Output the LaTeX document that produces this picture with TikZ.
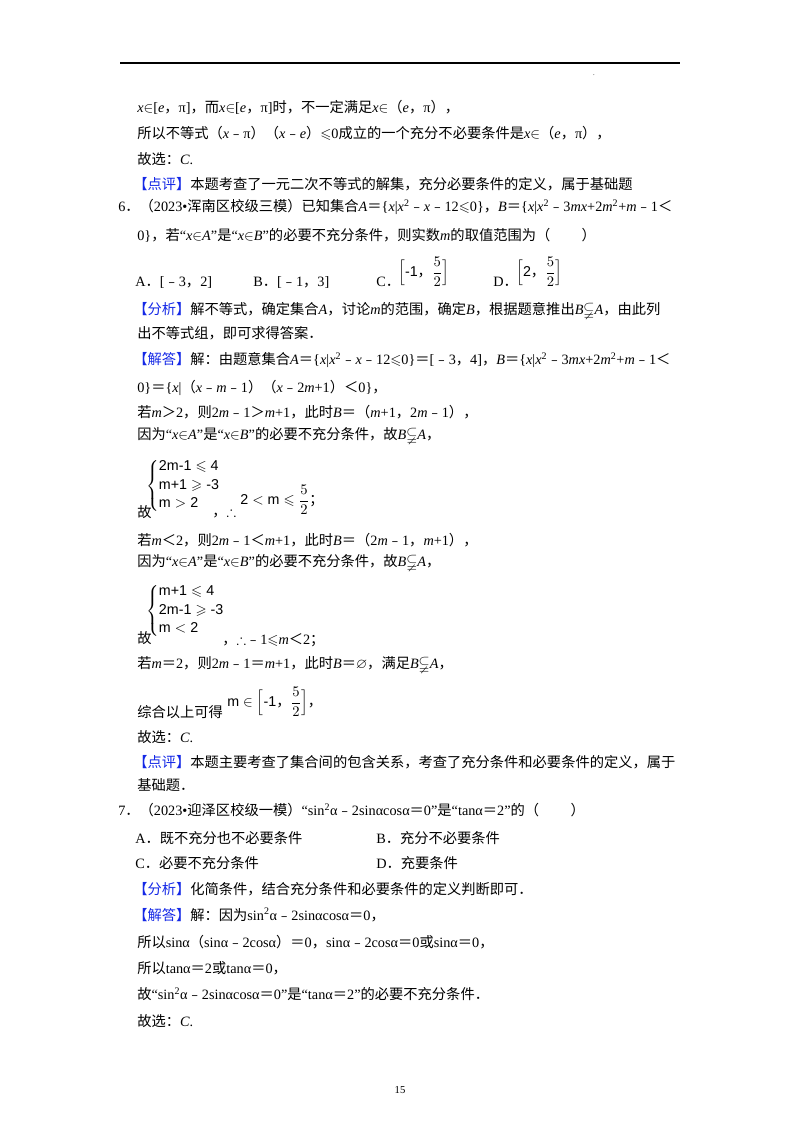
\documentclass[tikz,border=0pt]{standalone}
\usepackage{amsmath,amssymb}
\usepackage{fontspec}
\setmainfont{Liberation Serif}
\newfontfamily\cjk{Noto Sans CJK SC}
\newfontfamily\eqf{Liberation Sans}
\XeTeXinterchartokenstate=1
\newXeTeXintercharclass\cjkcls
\newcount\mycnt
\def\setcls#1#2{\mycnt=#1 \loop \XeTeXcharclass\mycnt=\cjkcls \advance\mycnt by 1 \ifnum\mycnt<#2 \repeat}
\setcls{"3000}{"3040}
\setcls{"4E00}{"A000}
\setcls{"FE30}{"FE70}
\setcls{"FF00}{"FFF0}
\XeTeXinterchartoks 0 \cjkcls={\begingroup\cjk}
\XeTeXinterchartoks 4095 \cjkcls={\begingroup\cjk}
\XeTeXinterchartoks \cjkcls 0={\endgroup}
\XeTeXinterchartoks \cjkcls 4095={\endgroup}
\definecolor{tagblue}{RGB}{20,40,230}
\newcommand{\ti}[1]{\textit{#1}}
\newcommand{\tg}[1]{{\color{tagblue}【#1】}}
\newcommand{\sq}{\textsuperscript{2}}
\newcommand{\elt}{$\in$}
\begin{document}
\begin{tikzpicture}[x=0.75pt,y=-0.75pt,font=\fontsize{10.7}{12}\selectfont,
  tl/.style={anchor=west,inner sep=0pt}]
\useasboundingbox (0,0) rectangle (800,1132);
\draw[line width=0.8pt] (120,63) -- (680,63);
\node[inner sep=0pt,font=\tiny] (dot) at (594,75) {.};
\node[tl] (l1) at (137,107) {\ti{x}\elt[\ti{e}，π]，而\ti{x}\elt[\ti{e}，π]时，不一定满足\ti{x}\elt（\ti{e}，π），};
\node[tl] (l2) at (137,133) {所以不等式（\ti{x}﹣π）（\ti{x}﹣\ti{e}）$\leqslant$0成立的一个充分不必要条件是\ti{x}\elt（\ti{e}，π），};
\node[tl] (l3) at (137,159) {故选：\ti{C}.};
\node[tl] (l4) at (133,184) {\tg{点评}本题考查了一元二次不等式的解集，充分必要条件的定义，属于基础题};
\node[tl] (q6) at (118,207) {6．（2023•浑南区校级三模）已知集合\ti{A}＝\{\ti{x}|\ti{x}\sq﹣\ti{x}﹣12$\leqslant$0\}，\ti{B}＝\{\ti{x}|\ti{x}\sq﹣3\ti{mx}+2\ti{m}\sq+\ti{m}﹣1＜};
\node[tl] (q6b) at (137,235) {0\}，若“\ti{x}\elt\ti{A}”是“\ti{x}\elt\ti{B}”的必要不充分条件，则实数\ti{m}的取值范围为（\hspace{2.2em}）};
\node[tl] (oA) at (135,282) {A．[﹣3，2]};
\node[tl] (oB) at (253,282) {B．[﹣1，3]};
\node[tl] (oC) at (376,282) {C．};
\node[tl] (oCf) at (398,272) {\eqf$\Bigl[\text{-1，}\dfrac{5}{2}\Bigr]$};
\node[tl] (oD) at (493,282) {D．};
\node[tl] (oDf) at (516,272) {\eqf$\Bigl[\text{2，}\dfrac{5}{2}\Bigr]$};
\node[tl] (a1) at (133,310) {\tg{分析}解不等式，确定集合\ti{A}，讨论\ti{m}的范围，确定\ti{B}，根据题意推出\ti{B}$\subsetneqq$\ti{A}，由此列};
\node[tl] (a2) at (137,333) {出不等式组，即可求得答案．};
\node[tl] (s1) at (133,360) {\tg{解答}解：由题意集合\ti{A}＝\{\ti{x}|\ti{x}\sq﹣\ti{x}﹣12$\leqslant$0\}＝[﹣3，4]，\ti{B}＝\{\ti{x}|\ti{x}\sq﹣3\ti{mx}+2\ti{m}\sq+\ti{m}﹣1＜};
\node[tl] (s2) at (137,388) {0\}＝\{\ti{x}|（\ti{x}﹣\ti{m}﹣1）（\ti{x}﹣2\ti{m}+1）＜0\}，};
\node[tl] (s3) at (137,412) {若\ti{m}＞2，则2\ti{m}﹣1＞\ti{m}+1，此时\ti{B}＝（\ti{m}+1，2\ti{m}﹣1），};
\node[tl] (s4) at (137,436) {因为“\ti{x}\elt\ti{A}”是“\ti{x}\elt\ti{B}”的必要不充分条件，故\ti{B}$\subsetneqq$\ti{A}，};
\node[tl] (g1) at (137,512) {故};
\node[tl] (sys1) at (146,486) {\eqf$\left\{\begin{array}{@{}l@{}}\text{2m-1}\leqslant\text{4}\\[2pt] \text{m+1}\geqslant\text{-3}\\[2pt] \text{m}>\text{2}\end{array}\right.$};
\node[tl] (c1) at (212,512) {，$\therefore$};
\node[tl] (c1f) at (240,500) {\eqf$\text{2}<\text{m}\leqslant\dfrac{5}{2}$；};
\node[tl] (s5) at (137,540) {若\ti{m}＜2，则2\ti{m}﹣1＜\ti{m}+1，此时\ti{B}＝（2\ti{m}﹣1，\ti{m}+1），};
\node[tl] (s6) at (137,563) {因为“\ti{x}\elt\ti{A}”是“\ti{x}\elt\ti{B}”的必要不充分条件，故\ti{B}$\subsetneqq$\ti{A}，};
\node[tl] (g2) at (137,638) {故};
\node[tl] (sys2) at (146,611) {\eqf$\left\{\begin{array}{@{}l@{}}\text{m+1}\leqslant\text{4}\\[2pt] \text{2m-1}\geqslant\text{-3}\\[2pt] \text{m}<\text{2}\end{array}\right.$};
\node[tl] (c2) at (222,640) {，$\therefore$﹣1$\leqslant$\ti{m}＜2；};
\node[tl] (s7) at (137,665) {若\ti{m}＝2，则2\ti{m}﹣1＝\ti{m}+1，此时\ti{B}＝$\varnothing$，满足\ti{B}$\subsetneqq$\ti{A}，};
\node[tl] (s8) at (137,712) {综合以上可得};
\node[tl] (s8f) at (227,702) {\eqf$\text{m}\in\Bigl[\text{-1，}\dfrac{5}{2}\Bigr]$，};
\node[tl] (s9) at (137,737) {故选：\ti{C}.};
\node[tl] (p1) at (133,762) {\tg{点评}本题主要考查了集合间的包含关系，考查了充分条件和必要条件的定义，属于};
\node[tl] (p2) at (137,785) {基础题．};
\node[tl] (q7) at (118,810) {7．（2023•迎泽区校级一模）“sin\sq α﹣2sinαcosα＝0”是“tanα＝2”的（\hspace{2.2em}）};
\node[tl] (o7A) at (135,838) {A．既不充分也不必要条件};
\node[tl] (o7B) at (376,838) {B．充分不必要条件};
\node[tl] (o7C) at (135,863) {C．必要不充分条件};
\node[tl] (o7D) at (376,863) {D．充要条件};
\node[tl] (t1) at (133,889) {\tg{分析}化简条件，结合充分条件和必要条件的定义判断即可．};
\node[tl] (t2) at (133,915) {\tg{解答}解：因为sin\sq α﹣2sinαcosα＝0，};
\node[tl] (t3) at (137,942) {所以sinα（sinα﹣2cosα）＝0，sinα﹣2cosα＝0或sinα＝0，};
\node[tl] (t4) at (137,968) {所以tanα＝2或tanα＝0，};
\node[tl] (t5) at (137,994) {故“sin\sq α﹣2sinαcosα＝0”是“tanα＝2”的必要不充分条件．};
\node[tl] (t6) at (137,1021) {故选：\ti{C}.};
\node[inner sep=0pt,font=\fontsize{8}{9}\selectfont] (pg) at (400,1090) {15};
\end{tikzpicture}
\end{document}
